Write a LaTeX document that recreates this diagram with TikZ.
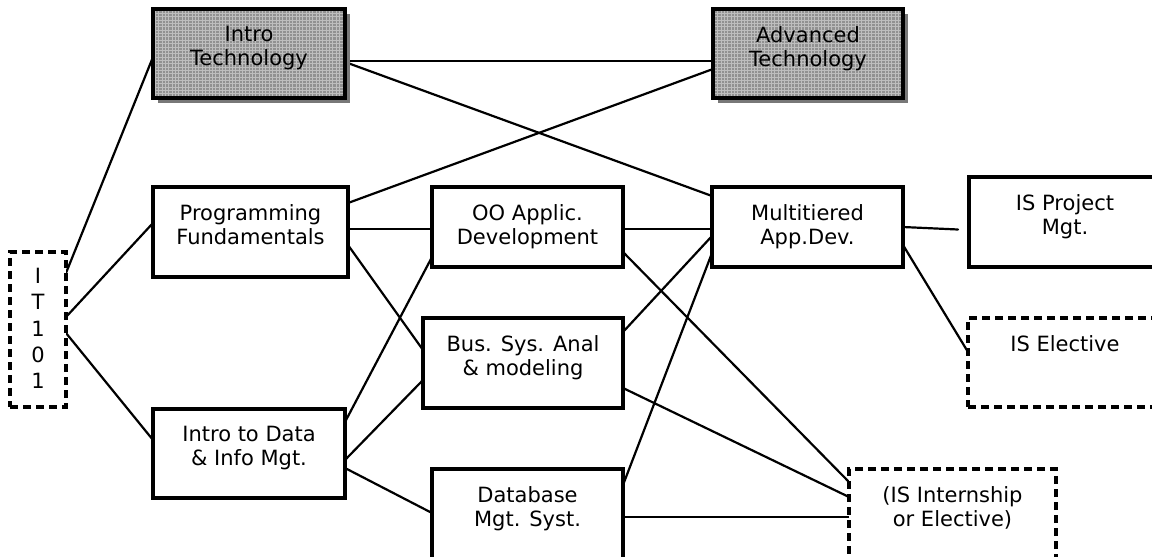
\documentclass[tikz,border=0pt]{standalone}
\usepackage{fontspec}
\setmainfont{DejaVu Sans}
\usetikzlibrary{shadows,backgrounds}
\definecolor{boxgray}{RGB}{145,145,145}
\definecolor{gridgray}{RGB}{190,190,190}
\definecolor{shadowgray}{RGB}{120,120,120}
\begin{document}
\begin{tikzpicture}[x=1pt,y=-1pt,
  box/.style={draw=black, line width=3.2pt, fill=white, rectangle, inner sep=0pt, outer sep=0pt, anchor=north west},
  dbox/.style={box, dash pattern=on 8pt off 5pt},
  gbox/.style={box, fill=boxgray,
    drop shadow={shadow xshift=5pt, shadow yshift=-5pt, fill=shadowgray, opacity=1},
    path picture={\draw[gridgray, line width=0.6pt] (path picture bounding box.south west) grid[step=3.35pt] (path picture bounding box.north east);}},
  txt/.style={anchor=north, inner sep=0pt, align=center, font=\fontsize{21}{24}\selectfont},
  link/.style={line width=2.2pt, line cap=round}
]
\useasboundingbox (0,0) rectangle (1152,557);
\clip (0,0) rectangle (1152,557);

% boxes
\node[dbox, minimum width=56pt,  minimum height=155pt] (it)   at (10,252)  {};
\node[gbox, minimum width=192pt, minimum height=89pt]  (itec) at (153,9)   {};
\node[gbox, minimum width=190pt, minimum height=89pt]  (atec) at (713,9)   {};
\node[box,  minimum width=195pt, minimum height=90pt]  (pf)   at (153,187) {};
\node[box,  minimum width=191pt, minimum height=80pt]  (oo)   at (432,187) {};
\node[box,  minimum width=191pt, minimum height=80pt]  (mt)   at (712,187) {};
\node[box,  minimum width=192pt, minimum height=90pt]  (isp)  at (969,177) {};
\node[dbox, minimum width=194pt, minimum height=89pt]  (ise)  at (968,318) {};
\node[box,  minimum width=192pt, minimum height=89pt]  (idm)  at (153,409) {};
\node[box,  minimum width=200pt, minimum height=90pt]  (bsa)  at (423,318) {};
\node[box,  minimum width=191pt, minimum height=120pt] (dbm)  at (432,469) {};
\node[dbox, minimum width=207pt, minimum height=120pt] (isi)  at (849,469) {};

% texts
\node[txt, font=\fontsize{21}{26.3}\selectfont] (itt) at ([yshift=-16pt]it.north) {I\\T\\1\\0\\1};
\node[txt] (itect) at ([yshift=-17pt]itec.north) {Intro\\Technology};
\node[txt] (atect) at ([yshift=-17pt]atec.north) {Advanced\\Technology};
\node[txt] (pft)   at ([yshift=-17pt]pf.north)   {Programming\\Fundamentals};
\node[txt] (oot)   at ([yshift=-17pt]oo.north)   {OO Applic.\\Development};
\node[txt] (mtt)   at ([yshift=-17pt]mt.north)   {Multitiered\\App.Dev.};
\node[txt] (ispt)  at ([yshift=-17pt]isp.north)  {IS Project\\Mgt.};
\node[txt] (iset)  at ([yshift=-17pt]ise.north)  {IS Elective};
\node[txt] (idmt)  at ([yshift=-17pt]idm.north)  {Intro to Data\\\& Info Mgt.};
\node[txt] (bsat)  at ([yshift=-17pt]bsa.north)  {Bus. Sys. Anal\\\& modeling};
\node[txt] (dbmt)  at ([yshift=-17pt]dbm.north)  {Database\\Mgt. Syst.};
\node[txt] (isit)  at ([yshift=-17pt]isi.north)  {(IS Internship\\or Elective)};

% connectors
\begin{scope}[on background layer]
\draw[link] ([yshift=-21pt]it.north east) -- ([yshift=-48pt]itec.north west);
\draw[link] ([yshift=-65pt]it.north east) -- ([yshift=-36pt]pf.north west);
\draw[link] ([yshift=-81pt]it.north east) -- ([yshift=-31pt]idm.north west);
\draw[link] ([yshift=-52pt]itec.north east) -- ([yshift=-52pt]atec.north west);
\draw[link] ([yshift=-53pt]itec.north east) -- ([yshift=-9pt]mt.north west);
\draw[link] ([yshift=-16pt]pf.north east) -- ([yshift=-60pt]atec.north west);
\draw[link] ([yshift=-42pt]pf.north east) -- ([yshift=-42pt]oo.north west);
\draw[link] ([yshift=-58pt]pf.north east) -- ([yshift=-32pt]bsa.north west);
\draw[link] ([yshift=-13pt]idm.north east) -- ([yshift=-70pt]oo.north west);
\draw[link] ([yshift=-51pt]idm.north east) -- ([yshift=-62pt]bsa.north west);
\draw[link] ([yshift=-59pt]idm.north east) -- ([yshift=-44pt]dbm.north west);
\draw[link] ([yshift=-42pt]oo.north east) -- ([yshift=-42pt]mt.north west);
\draw[link] ([yshift=-65pt]oo.north east) -- ([yshift=-13pt]isi.north west);
\draw[link] ([yshift=-14pt]bsa.north east) -- ([yshift=-49pt]mt.north west);
\draw[link] ([yshift=-70pt]bsa.north east) -- ([yshift=-28pt]isi.north west);
\draw[link] ([yshift=-16pt]dbm.north east) -- ([yshift=-66pt]mt.north west);
\draw[link] ([yshift=-48pt]dbm.north east) -- ([yshift=-48pt]isi.north west);
\draw[link, shorten >=11pt] ([yshift=-40pt]mt.north east) -- ([yshift=-53pt]isp.north west);
\draw[link] ([yshift=-58pt]mt.north east) -- ([yshift=-34pt]ise.north west);
\end{scope}
\end{tikzpicture}
\end{document}
